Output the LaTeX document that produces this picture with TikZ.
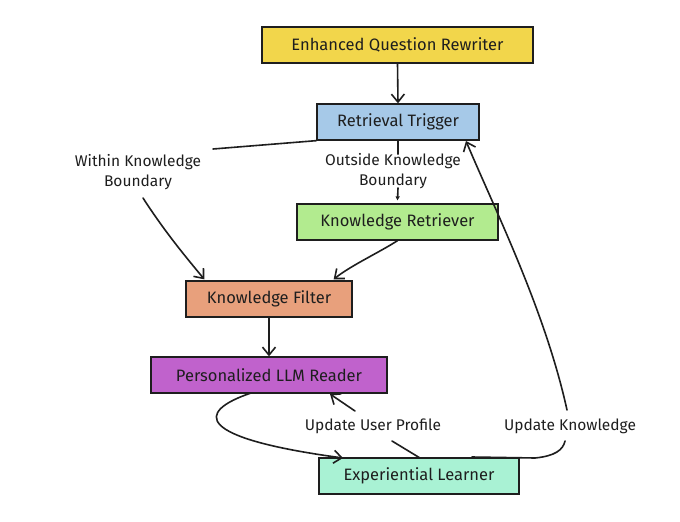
\documentclass[tikz,border=0pt]{standalone}
\usepackage{fontspec}
\setmainfont{Fira Sans}
\usetikzlibrary{arrows.meta,calc}
\definecolor{ink}{HTML}{1E1E1E}
\definecolor{cyel}{HTML}{F2D64B}
\definecolor{cblue}{HTML}{A6C9E8}
\definecolor{cgreen}{HTML}{B2EB8F}
\definecolor{csalmon}{HTML}{E8A07C}
\definecolor{cpurple}{HTML}{C062CC}
\definecolor{cmint}{HTML}{A9F2D4}
\tikzset{
  box/.style={draw=ink, line width=1.3pt, inner sep=0pt, minimum height=36pt, text=ink, font=\fontsize{16.5}{19}\selectfont},
  lbl/.style={text=ink, align=center, inner sep=1pt, font=\fontsize{15.5}{20}\selectfont},
  conn/.style={draw=ink, line width=1.6pt, line cap=round},
  arr/.style={conn, -{Straight Barb[length=8pt,width=13pt,line width=1.6pt]}},
  smallarr/.style={conn, -{Triangle[length=4pt,width=4pt]}}
}
\begin{document}
\begin{tikzpicture}[x=1pt,y=-1pt]
\useasboundingbox[fill=white] (0,0) rectangle (680,522);
\node[box, fill=cyel, minimum width=271pt] (eqr) at (397.5,45) {Enhanced Question Rewriter};
\node[box, fill=cblue, minimum width=162pt] (rt) at (398,122) {Retrieval Trigger};
\node[box, fill=cgreen, minimum width=201pt] (kr) at (397.5,222) {Knowledge Retriever};
\node[box, fill=csalmon, minimum width=166pt] (kf) at (269,299) {Knowledge Filter};
\node[box, fill=cpurple, minimum width=236pt] (plr) at (269,375) {Personalized LLM Reader};
\node[box, fill=cmint, minimum width=200pt] (el) at (419,476) {Experiential Learner};

\node[lbl] (wk) at (138,172) {Within Knowledge\\Boundary};
\node[lbl] (ok) at (393,171) {Outside Knowledge\\Boundary};
\node[lbl] (up) at (373,426) {Update User Profile};
\node[lbl] (uk) at (570,426) {Update Knowledge};

\coordinate (wkA) at (213,149);
\coordinate (wkB) at (143,198);
\coordinate (kfL) at ($(kf.north west)+(19,-1)$);
\coordinate (kfR) at ($(kf.north east)+(-19,-1)$);
\coordinate (plrA) at (251,393);
\coordinate (elL) at (343,458);
\coordinate (elM) at (420,458);
\coordinate (upB) at (392,441);
\coordinate (upT) at (355,411);
\coordinate (plrB) at (330,394);
\coordinate (elR) at (472,457);
\coordinate (ukB) at (565,441);
\coordinate (ukT) at (567,410);
\coordinate (rtR) at (466,141);

\draw[arr] (eqr.south) -- (rt.north);
\draw[conn] (rt.south west) -- (wkA);
\draw[arr] (wkB) .. controls (165,232) and (185,256) .. (kfL);
\draw[conn] (rt.south) -- ($(ok.north)+(5,2)$);
\draw[smallarr] ($(ok.south)+(5,-2)$) -- ($(kr.north)+(0,-3)$);
\draw[arr] (kr.south) .. controls (380,252) and (350,266) .. (kfR);
\draw[arr] (kf.south) -- (plr.north);
\draw[arr] (plrA) .. controls (195,412) and (195,438) .. (elL);
\draw[conn] (elM) -- (upB);
\draw[arr] (upT) -- (plrB);
\draw[conn] (elR) -- (535,458) .. controls (555,456) and (563,450) .. (ukB);
\draw[arr] (ukT) .. controls (545,310) and (495,210) .. (rtR);
\end{tikzpicture}
\end{document}
